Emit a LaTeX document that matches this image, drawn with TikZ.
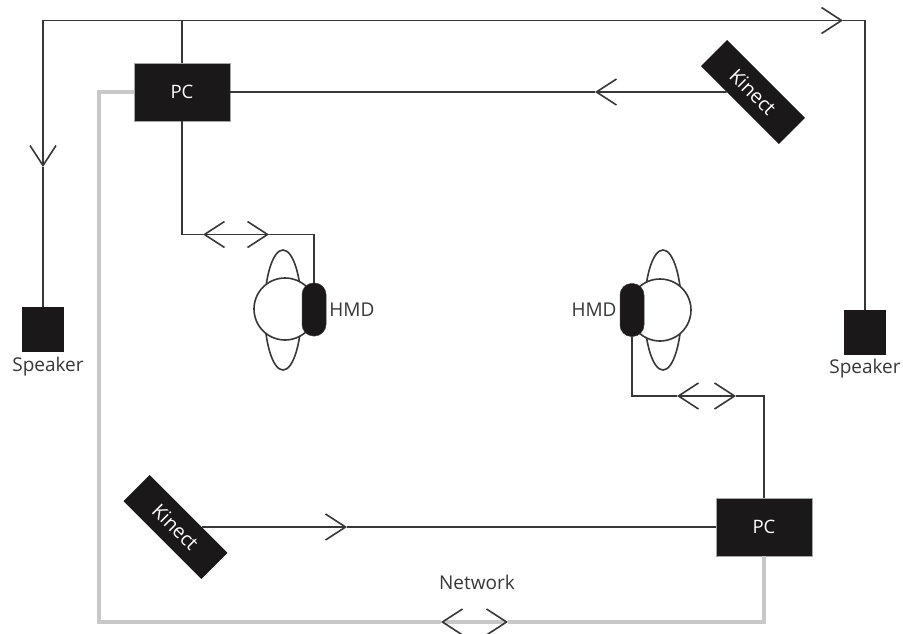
\documentclass[tikz,border=0pt]{standalone}
\usepackage{fontspec}
\setmainfont{Open Sans}
\usetikzlibrary{shapes, arrows.meta, positioning}
\definecolor{boxblack}{RGB}{26, 24, 25}
\definecolor{wiregray}{RGB}{55, 55, 55}
\definecolor{netgray}{RGB}{200, 200, 200}
\tikzset{
  wire/.style={line width=1.8pt, wiregray},
  netwire/.style={line width=3.5pt, netgray},
  flowarrow/.style={-{Straight Barb[length=20pt, width=26pt, line width=1.6pt]}, wire},
  biarrow/.style={{Straight Barb[length=20pt, width=26pt, line width=1.6pt]}-{Straight Barb[length=20pt, width=26pt, line width=1.6pt]}, wire},
  netarrow/.style={{Straight Barb[length=20pt, width=26pt, line width=1.6pt, wiregray]}-{Straight Barb[length=20pt, width=26pt, line width=1.6pt, wiregray]}, netwire},
  pcbox/.style={rectangle, fill=boxblack, draw=gray!70, line width=0.5pt, minimum width=96pt, minimum height=58pt, inner sep=0pt, text=white, font=\fontsize{18.5}{18.5}\selectfont},
  kinectbox/.style={rectangle, fill=boxblack, minimum width=110pt, minimum height=37pt, inner sep=0pt, rotate=-45, text=white, font=\fontsize{19.5}{19.5}\selectfont},
  speakerbox/.style={rectangle, fill=boxblack, minimum width=42pt, minimum height=45pt, inner sep=0pt},
  headcircle/.style={circle, draw=wiregray, fill=white, line width=1.6pt, minimum size=62pt, inner sep=0pt},
  earellipse/.style={ellipse, draw=wiregray, fill=white, line width=1.6pt, minimum width=37pt, minimum height=120pt, inner sep=0pt},
  hmdbox/.style={rectangle, rounded corners=11.5pt, fill=boxblack, draw=wiregray, line width=0.5pt, minimum width=24pt, minimum height=53pt, inner sep=0pt},
  lbl/.style={text=wiregray, inner sep=0pt, font=\fontsize{19}{19}\selectfont}
}
\begin{document}
\begin{tikzpicture}[x=1pt, y=-1pt]
    \useasboundingbox (0, 0) rectangle (903, 634);

    % boxes
    \node[pcbox] (pc1) at (182, 92) {PC};
    \node[pcbox] (pc2) at (764, 527) {PC};
    \node[kinectbox] (kinect1) at (753, 92) {Kinect};
    \node[kinectbox] (kinect2) at (175.5, 527) {Kinect};
    \node[speakerbox] (speaker1) at (43, 329.5) {};
    \node[speakerbox] (speaker2) at (865, 332.5) {};
    \node[lbl, below=5pt of speaker1, xshift=5pt] (speakerlbl1) {Speaker};
    \node[lbl, below=4pt of speaker2] (speakerlbl2) {Speaker};

    % left head
    \node[earellipse] (ear1) at (283, 310) {};
    \node[headcircle] (head1) at (285, 309) {};
    \node[hmdbox] (hmd1) at (314, 309.5) {};
    \node[lbl, right=3pt of hmd1] (hmdlbl1) {HMD};

    % right head
    \node[earellipse] (ear2) at (663, 310) {};
    \node[headcircle] (head2) at (660, 310) {};
    \node[hmdbox] (hmd2) at (632, 310) {};
    \node[lbl, left=3pt of hmd2] (hmdlbl2) {HMD};

    % tips and corners
    \coordinate (corner1) at (43, 20.5);
    \coordinate (tipdown) at (43, 167);
    \coordinate (tipright) at (843, 20.5);
    \coordinate (tipkinect1) at (595, 92);
    \coordinate (tipkinect2) at (347, 527);
    \coordinate (hmdleft1) at (203, 234.5);
    \coordinate (hmdright1) at (269, 234.5);
    \coordinate (hmdleft2) at (677, 396);
    \coordinate (hmdright2) at (736, 396);
    \coordinate (netcorner) at (99, 622);
    \coordinate (netleft) at (441, 622);
    \coordinate (netright) at (508, 622);

    % speakers
    \draw[wire] (pc1.north) |- (corner1);
    \draw[flowarrow] (corner1) -- (tipdown);
    \draw[wire] (tipdown) -- (speaker1.north);
    \draw[flowarrow] (pc1.north) |- (tipright);
    \draw[wire] (tipright) -| (speaker2.north);

    % kinect to pc
    \draw[flowarrow] (kinect1) -- (tipkinect1);
    \draw[wire] (tipkinect1) -- (pc1.east);
    \draw[flowarrow] (kinect2) -- (tipkinect2);
    \draw[wire] (tipkinect2) -- (pc2.west);

    % pc to hmd
    \draw[wire] (pc1.south) |- (hmdleft1);
    \draw[biarrow] (hmdleft1) -- (hmdright1);
    \draw[wire] (hmdright1) -| (hmd1.north);
    \draw[wire] (hmd2.south) |- (hmdleft2);
    \draw[biarrow] (hmdleft2) -- (hmdright2);
    \draw[wire] (hmdright2) -| (pc2.north);

    % network
    \draw[netwire] (pc1.west) -| (netcorner) -- (netleft);
    \draw[netarrow] (netleft) -- (netright);
    \draw[netwire] (netright) -| (pc2.south);
    \node[lbl] (networklbl) at (477, 582) {Network};
\end{tikzpicture}
\end{document}
